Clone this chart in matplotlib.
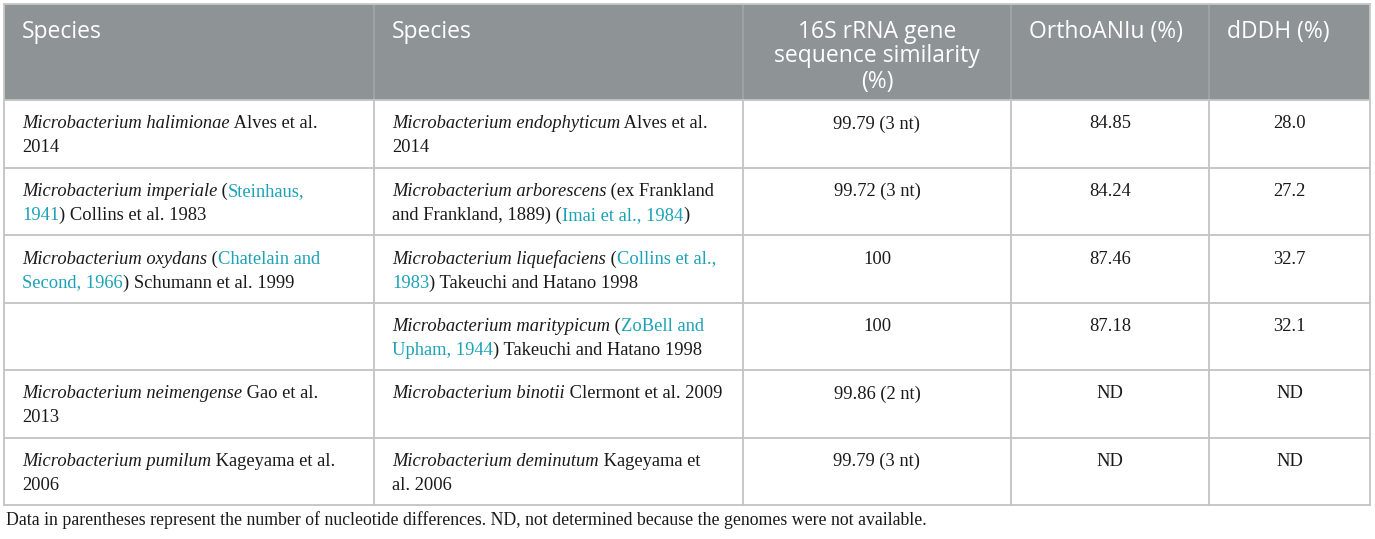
import matplotlib
matplotlib.use("Agg")
import matplotlib.pyplot as plt
from matplotlib.font_manager import FontProperties
from matplotlib.patches import Rectangle

# table content; *...* = italic, [...] = citation link, | = line break
headers = ["Species", "Species", "16S rRNA gene|sequence similarity|(%)", "OrthoANIu (%)", "dDDH (%)"]

species_a = [
    "*Microbacterium halimionae* Alves et al.|2014",
    "*Microbacterium imperiale* ([Steinhaus,]|[1941]) Collins et al. 1983",
    "*Microbacterium oxydans* ([Chatelain and]|[Second, 1966]) Schumann et al. 1999",
    "",
    "*Microbacterium neimengense* Gao et al.|2013",
    "*Microbacterium pumilum* Kageyama et al.|2006",
]
species_b = [
    "*Microbacterium endophyticum* Alves et al.|2014",
    "*Microbacterium arborescens* (ex Frankland|and Frankland, 1889) ([Imai et al., 1984])",
    "*Microbacterium liquefaciens* ([Collins et al.,]|[1983]) Takeuchi and Hatano 1998",
    "*Microbacterium maritypicum* ([ZoBell and]|[Upham, 1944]) Takeuchi and Hatano 1998",
    "*Microbacterium binotii* Clermont et al. 2009",
    "*Microbacterium deminutum* Kageyama et|al. 2006",
]
similarity = ["99.79 (3 nt)", "99.72 (3 nt)", "100", "100", "99.86 (2 nt)", "99.79 (3 nt)"]
ortho_ani = ["84.85", "84.24", "87.46", "87.18", "ND", "ND"]
dddh = ["28.0", "27.2", "32.7", "32.1", "ND", "ND"]

footnote = ("Data in parentheses represent the number of nucleotide differences. "
            "ND, not determined because the genomes were not available.")

W, H = 1375, 539
col_x = [4, 374, 743, 1011, 1209, 1370]
top, head_bot, bottom = 4, 100, 505
row_h = (bottom - head_bot) / 6
pad = 18
line_h = 24
head_line_h = 25

SERIF = "Liberation Serif"
SANS = "Open Sans"
body_size = 13.3
head_size = 16.5
link_col = "#1ba2b6"
grid_col = "#c3c3c3"
head_bg = "#8e9496"

fig = plt.figure(figsize=(W / 100, H / 100), dpi=100)
ax = fig.add_axes([0, 0, 1, 1])
ax.set_xlim(0, W)
ax.set_ylim(H, 0)
ax.axis("off")
renderer = fig.canvas.get_renderer()


def text_w(s, prop):
    w1 = renderer.get_text_width_height_descent(s + "I", prop, ismath=False)[0]
    w2 = renderer.get_text_width_height_descent("I", prop, ismath=False)[0]
    return w1 - w2


def parse(line):
    segs, buf, ital, link = [], "", False, False
    for ch in line:
        if ch in "*[]":
            if buf:
                segs.append((buf, ital, link))
            buf = ""
            if ch == "*":
                ital = not ital
            else:
                link = ch == "["
        else:
            buf += ch
    if buf:
        segs.append((buf, ital, link))
    return segs


def draw_rich(x, y, markup):
    if not markup:
        return
    for k, line in enumerate(markup.split("|")):
        cx = x
        for seg, ital, link in parse(line):
            prop = FontProperties(family=SERIF, size=body_size,
                                  style="italic" if ital else "normal")
            ax.text(cx, y + k * line_h, seg, fontproperties=prop,
                    color=link_col if link else "#1a1a1a", va="baseline", ha="left")
            cx += text_w(seg, prop)


# header band
ax.add_patch(Rectangle((col_x[0], top), col_x[-1] - col_x[0], head_bot - top,
                       facecolor=head_bg, edgecolor="none"))
for xc in col_x[1:-1]:
    ax.plot([xc, xc], [top, head_bot], color="#a3a8aa", lw=1.1)

# grid
for i in range(7):
    y = head_bot + i * row_h
    ax.plot([col_x[0], col_x[-1]], [y, y], color=grid_col, lw=1.3)
for xc in col_x:
    ax.plot([xc, xc], [head_bot, bottom], color=grid_col, lw=1.3)
ax.plot([col_x[0], col_x[-1]], [top, top], color="#c8c8c8", lw=1.3)
ax.plot([col_x[0], col_x[0]], [top, head_bot], color="#c8c8c8", lw=1.3)
ax.plot([col_x[-1], col_x[-1]], [top, head_bot], color="#c8c8c8", lw=1.3)

# header text
head_base = 37.5
for j, h in enumerate(headers):
    for k, part in enumerate(h.split("|")):
        if "|" in h:
            ax.text((col_x[j] + col_x[j + 1]) / 2, head_base + k * head_line_h, part,
                    family=SANS, size=head_size, color="white", ha="center", va="baseline")
        else:
            ax.text(col_x[j] + pad, head_base + k * head_line_h, part,
                    family=SANS, size=head_size, color="white", ha="left", va="baseline")

# body rows
first_base = 28.5
for i in range(6):
    yb = head_bot + i * row_h + first_base
    draw_rich(col_x[0] + pad, yb, species_a[i])
    draw_rich(col_x[1] + pad, yb, species_b[i])
    for j, vals in zip([2, 3, 4], [similarity, ortho_ani, dddh]):
        ax.text((col_x[j] + col_x[j + 1]) / 2, yb, vals[i], family=SERIF, size=body_size,
                color="#1a1a1a", ha="center", va="baseline")

ax.text(col_x[0] + 2, 525, footnote, family=SERIF, size=12.8, color="#1a1a1a",
        ha="left", va="baseline")

fig.savefig("out.png", dpi=100)
